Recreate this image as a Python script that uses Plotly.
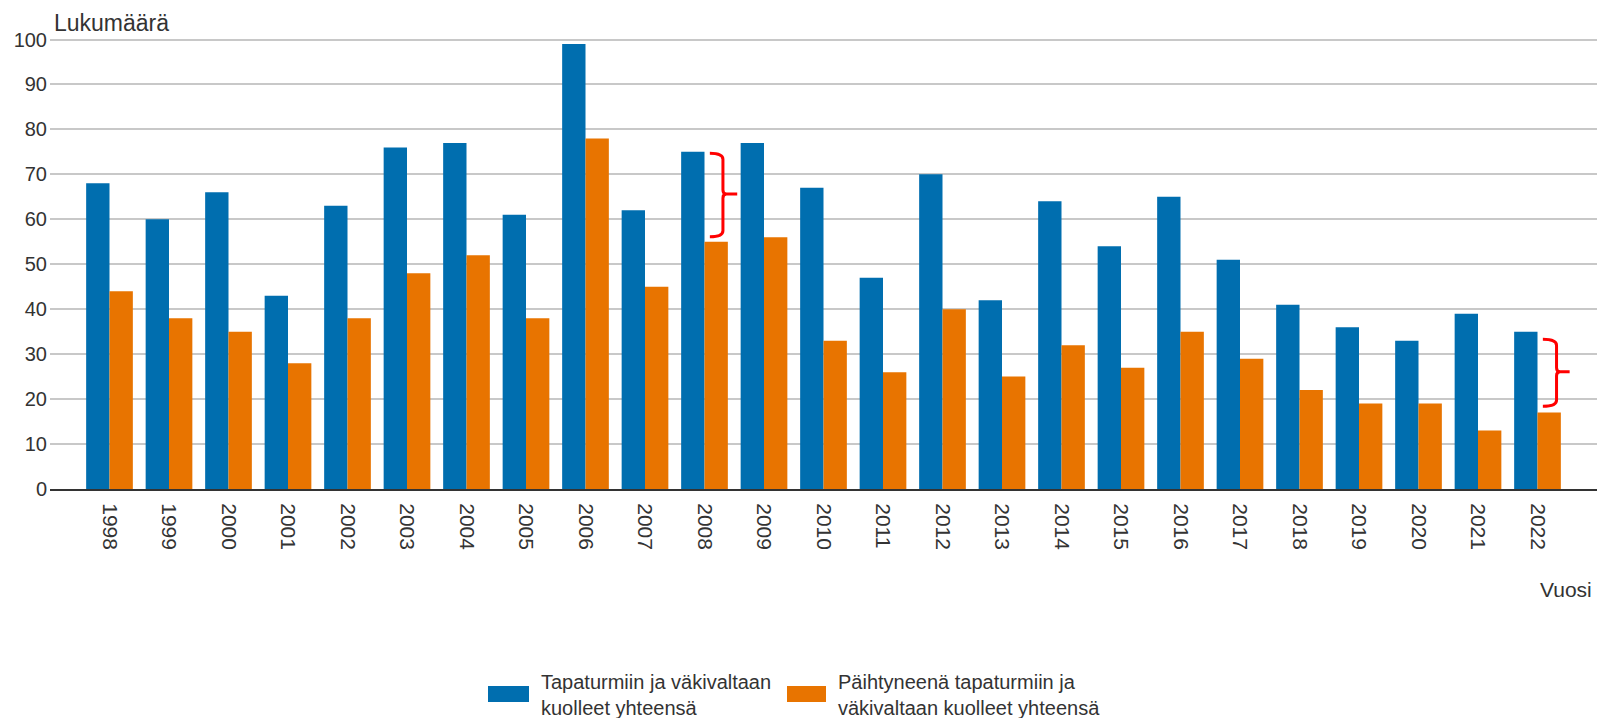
import plotly.graph_objects as go

years = list(range(1998, 2023))
total_deaths = [68, 60, 66, 43, 63, 76, 77, 61, 99, 62, 75, 77, 67, 47, 70, 42, 64, 54, 65, 51, 41, 36, 33, 39, 35]
drunk_deaths = [44, 38, 35, 28, 38, 48, 52, 38, 78, 45, 55, 56, 33, 26, 40, 25, 32, 27, 35, 29, 22, 19, 19, 13, 17]

name_total = "Tapaturmiin ja väkivaltaan<br>kuolleet yhteensä"
name_drunk = "Päihtyneenä tapaturmiin ja<br>väkivaltaan kuolleet yhteensä"

BLUE = "#006eaf"
ORANGE = "#e87400"
FONT = "Liberation Sans, Arial, sans-serif"
TXT = "#333333"

W, H = 1601, 718
ML, MR, MT, MB = 50, 4, 35, 229
PW = W - ML - MR
PH = H - MT - MB


def px(x):
    return (x - ML) / PW


def py(y):
    return (H - MB - y) / PH


fig = go.Figure()
fig.add_trace(go.Bar(x=years, y=total_deaths, name=name_total, marker=dict(color=BLUE, line=dict(width=0)), showlegend=False))
fig.add_trace(go.Bar(x=years, y=drunk_deaths, name=name_drunk, marker=dict(color=ORANGE, line=dict(width=0)), showlegend=False))


def brace(x0, xs, xt, ytop, ymid, ybot):
    r = 0.9
    return (f"M {x0},{ytop} Q {xs},{ytop} {xs},{ytop - r*1.5} "
            f"L {xs},{ymid + r} Q {xs},{ymid} {xs + 0.06},{ymid} L {xt},{ymid} "
            f"M {xs + 0.06},{ymid} Q {xs},{ymid} {xs},{ymid - r} "
            f"L {xs},{ybot + r*1.5} Q {xs},{ybot} {x0},{ybot}")


shapes = [
    dict(type="path", xref="x", yref="y", path=brace(2008.09, 2008.31, 2008.55, 74.7, 65.6, 56.1),
         line=dict(color="#ff0000", width=3)),
    dict(type="path", xref="x", yref="y", path=brace(2022.09, 2022.32, 2022.54, 33.3, 26.1, 18.4),
         line=dict(color="#ff0000", width=3)),
    dict(type="rect", xref="paper", yref="paper", x0=px(488), x1=px(529), y0=py(702), y1=py(686),
         fillcolor=BLUE, line=dict(width=0)),
    dict(type="rect", xref="paper", yref="paper", x0=px(787), x1=px(826), y0=py(702), y1=py(686),
         fillcolor=ORANGE, line=dict(width=0)),
]

annotations = [
    dict(text="Lukumäärä", xref="paper", yref="paper", x=px(52), y=py(23), xanchor="left", yanchor="middle",
         showarrow=False, font=dict(family=FONT, size=23, color=TXT)),
    dict(text="Vuosi", xref="paper", yref="paper", x=px(1594), y=py(589), xanchor="right", yanchor="middle",
         showarrow=False, font=dict(family=FONT, size=21, color=TXT)),
    dict(text=name_total, xref="paper", yref="paper", x=px(539), y=py(695), xanchor="left", yanchor="middle",
         align="left", showarrow=False, font=dict(family=FONT, size=20, color=TXT)),
    dict(text=name_drunk, xref="paper", yref="paper", x=px(836), y=py(695), xanchor="left", yanchor="middle",
         align="left", showarrow=False, font=dict(family=FONT, size=20, color=TXT)),
]

fig.update_layout(
    width=W, height=H,
    margin=dict(l=ML, r=MR, t=MT, b=MB, pad=0),
    paper_bgcolor="white", plot_bgcolor="white",
    barmode="group", bargap=0.215, bargroupgap=0,
    font=dict(family=FONT, size=20, color=TXT),
    shapes=shapes, annotations=annotations,
    showlegend=False,
)
fig.update_xaxes(
    range=[1997, 2023], tickmode="array", tickvals=years, ticktext=[str(y) for y in years],
    tickangle=90, showgrid=False, zeroline=False, showline=True, linecolor="#333333", linewidth=2,
    ticks="", ticklabelstandoff=8, tickfont=dict(family=FONT, size=21, color=TXT),
)
fig.update_yaxes(
    range=[0, 101], tickmode="array", tickvals=list(range(0, 101, 10)),
    showgrid=True, gridcolor="#c8c8c8", gridwidth=1.5, zeroline=False, showline=False,
    ticks="", ticklabelstandoff=2, tickfont=dict(family=FONT, size=20, color=TXT),
)

fig.write_html(
    "out.html",
    config={"displayModeBar": False},
    post_script="document.body.style.margin='0';document.body.style.padding='0';document.body.style.overflow='hidden';",
)
